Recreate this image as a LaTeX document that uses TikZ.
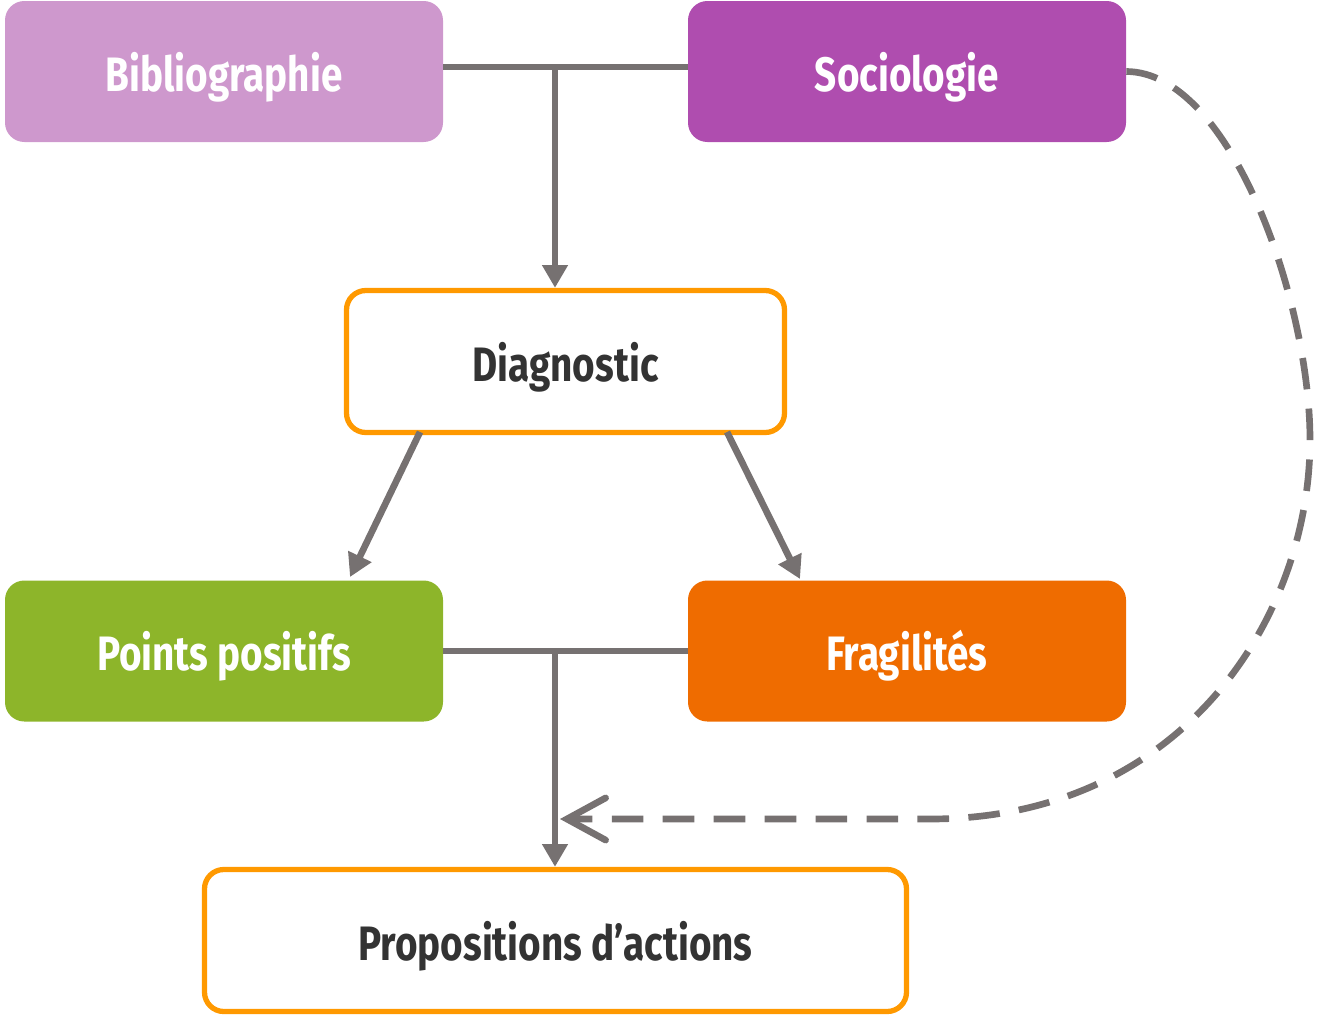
\documentclass[tikz,border=0pt]{standalone}
\usepackage{fontspec}
\setmainfont[FakeStretch=0.8]{Fira Sans}
\usetikzlibrary{arrows.meta}
\definecolor{bibc}{HTML}{CE98CD}
\definecolor{socc}{HTML}{AF4DAF}
\definecolor{posc}{HTML}{8DB52A}
\definecolor{frac}{HTML}{EF6C00}
\definecolor{orc}{HTML}{FF9900}
\definecolor{linec}{HTML}{767171}
\definecolor{txtc}{HTML}{333333}
\tikzset{
  boxtext/.style={font=\fontsize{27.5}{32}\selectfont\bfseries, inner sep=0pt, text height=22.5pt, text depth=0pt},
  colbox/.style={boxtext, rounded corners=11pt, minimum width=438*0.02cm, minimum height=141*0.02cm, text=white},
  whitebox/.style={boxtext, rounded corners=11pt, draw=orc, line width=3pt, fill=white, text=txtc},
  conn/.style={draw=linec, line width=3.8pt},
  arr/.style={conn, -{Triangle[length=13pt,width=14pt]}}
}
\begin{document}
\begin{tikzpicture}[x=0.02cm,y=-0.02cm]
\useasboundingbox (0,0) rectangle (1322,1018);
\node[colbox, fill=bibc] (bib) at (224,71.5) {Bibliographie};
\node[colbox, fill=socc] (soc) at (907,71.5) {Sociologie};
\node[whitebox, minimum width=438*0.02cm, minimum height=142*0.02cm] (dia) at (565.5,361.5) {Diagnostic};
\node[colbox, fill=posc] (pos) at (224,651) {Points positifs};
\node[colbox, fill=frac] (fra) at (907,651) {Fragilités};
\node[whitebox, minimum width=702*0.02cm, minimum height=142*0.02cm] (pro) at (555.5,940.5) {Propositions d’actions};
% top junction
\coordinate (j1) at (555,67);
\draw[conn] (bib.east |- j1) -- (soc.west |- j1);
\draw[arr] (j1) -- (j1 |- dia.north);
% diagnostic outputs
\coordinate (d1) at (420,432);
\coordinate (d2) at (727,432);
\coordinate (p1) at (350,577);
\coordinate (f1) at (800,579);
\draw[arr] (d1) -- (p1);
\draw[arr] (d2) -- (f1);
% bottom junction
\coordinate (j2) at (555,651);
\draw[conn] (pos.east |- j2) -- (fra.west |- j2);
\draw[arr] (j2) -- (j2 |- pro.north);
% dashed feedback
\coordinate (fe) at (560,819);
\draw[draw=linec, line width=3.8pt, dash pattern=on 18pt off 11pt, line cap=butt,
  -{Straight Barb[length=22pt,width=24pt,line cap=round]}]
  (soc.east) .. controls (1230,72) and (1310,300) .. (1310,440)
  .. controls (1310,620) and (1180,819) .. (930,819) -- (fe);
\end{tikzpicture}
\end{document}
